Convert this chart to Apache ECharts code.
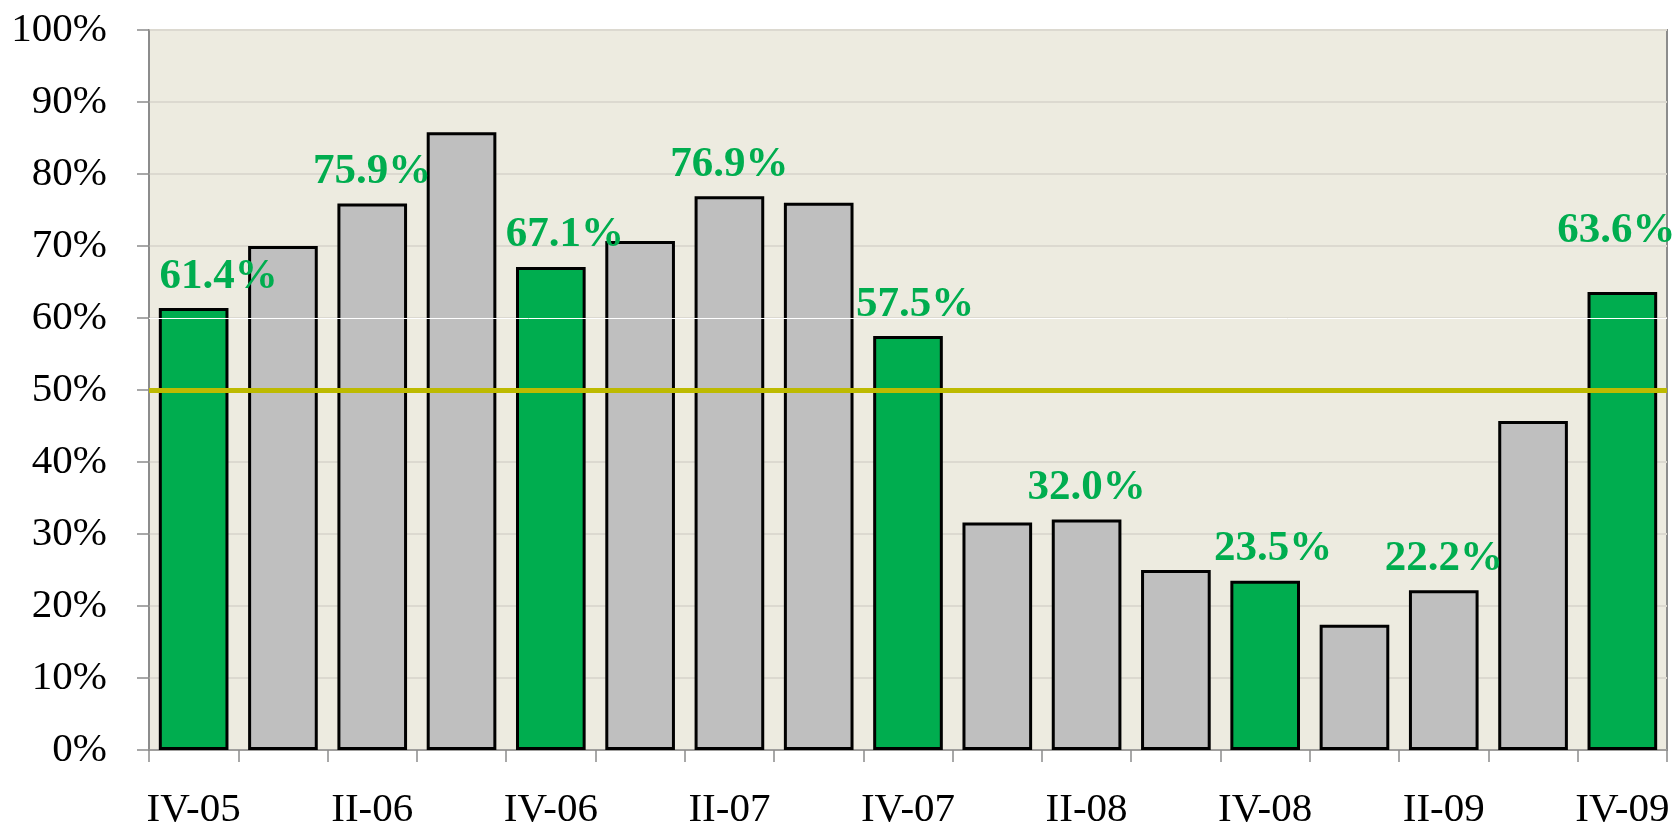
<!DOCTYPE html>
<html style="height: 100%; width:100%">
<head>
    <meta charset="utf-8">
    <script type="text/javascript" src="https://cdn.jsdelivr.net/npm/echarts@6/dist/echarts.min.js"></script>
</head>
<body style="height: 100%; width: 100%; margin: 0; background:#ffffff">
<div id="container" style="height: 831px;width:1679px"></div>
<script type="text/javascript">
    // quarters, IV-05 .. IV-09
    var quarters = ["IV-05","I-06","II-06","III-06","IV-06","I-07","II-07","III-07","IV-07",
                    "I-08","II-08","III-08","IV-08","I-09","II-09","III-09","IV-09"];
    // share, %
    var shares = [61.4, 70.0, 75.9, 85.8, 67.1, 70.7, 76.9, 76.0, 57.5,
                  31.6, 32.0, 25.0, 23.5, 17.4, 22.2, 45.7, 63.6];
    var thresholdValue = 50;
    var yTicks = [0, 10, 20, 30, 40, 50, 60, 70, 80, 90, 100];

    // tweaks for the value labels (x, y shift in px)
    var labelShift = {"IV-05": [25, 0], "IV-06": [14, 0], "IV-07": [7, 0], "IV-08": [8, 0], "IV-09": [-6, -30]};

    var font = "'Liberation Serif', 'Times New Roman', serif";
    var green = "#00ad4f";
    var grey = "#bfbfbf";

    var barData = quarters.map(function (q, i) {
        var isIV = q.indexOf("IV-") === 0;
        var isII = q.indexOf("II-") === 0 && q.indexOf("III-") !== 0;
        return {
            value: shares[i],
            itemStyle: {color: isIV ? green : grey},
            label: {
                show: isIV || isII,
                offset: labelShift[q] || [0, 0]
            }
        };
    });

    var dom = document.getElementById("container");
    var myChart = echarts.init(dom);

    var option = {
        animation: false,
        backgroundColor: "#ffffff",
        grid: {
            left: 149,
            right: 12,
            top: 30,
            bottom: 81,
            show: true,
            backgroundColor: "#edebe0",
            borderColor: "#8c8c8c",
            borderWidth: 2
        },
        xAxis: {
            type: "category",
            data: quarters,
            boundaryGap: true,
            axisLine: {lineStyle: {color: "#8c8c8c", width: 1.5}},
            axisTick: {show: true, interval: 0, length: 12, lineStyle: {color: "#8c8c8c", width: 1.5}},
            axisLabel: {
                interval: 1,
                margin: 40,
                color: "#000",
                fontFamily: font,
                fontSize: 41
            }
        },
        yAxis: {
            type: "value",
            min: yTicks[0],
            max: yTicks[yTicks.length - 1],
            interval: 10,
            axisLine: {show: true, lineStyle: {color: "#8c8c8c", width: 1.5}},
            axisTick: {show: true, inside: false, length: 12, lineStyle: {color: "#8c8c8c", width: 1.5}},
            splitLine: {lineStyle: {color: "#dcd9d0", width: 2}},
            axisLabel: {
                margin: 42,
                color: "#000",
                fontFamily: font,
                fontSize: 41,
                formatter: function (v) { return v + "%"; }
            }
        },
        series: [{
            type: "bar",
            data: barData,
            barCategoryGap: "22%",
            itemStyle: {borderColor: "#000", borderWidth: 3},
            label: {
                position: "top",
                distance: 10,
                color: green,
                fontFamily: font,
                fontWeight: "bold",
                fontSize: 43,
                formatter: function (p) { return p.value.toFixed(1) + "%"; }
            },
            markLine: {
                silent: true,
                symbol: "none",
                label: {show: false},
                z: 5,
                data: [
                    {yAxis: 60, lineStyle: {color: "#ffffff", width: 1, type: "solid"}},
                    {yAxis: thresholdValue, lineStyle: {color: "#bdba00", width: 5, type: "solid"}}
                ]
            }
        }]
    };

    myChart.setOption(option, true);
</script>
</body>
</html>
